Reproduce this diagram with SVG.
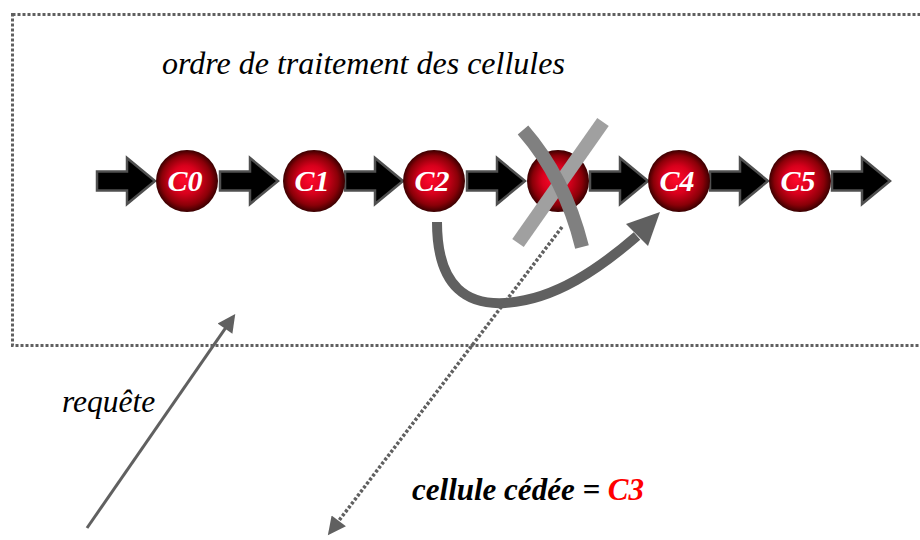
<svg xmlns="http://www.w3.org/2000/svg" width="920" height="540" viewBox="0 0 920 540">
<style>
.lbl{font-style:italic;font-weight:bold;font-size:30px;fill:#fff;text-anchor:middle}
.txt{font-style:italic;fill:#000}
.blk{fill:#000;stroke:#505050;stroke-width:2.5;stroke-linejoin:miter}
.ball{fill:url(#sph)}
</style>
<defs>
<radialGradient id="sph" cx="50%" cy="50%" r="50%" fx="44%" fy="46%">
<stop offset="0" stop-color="#ff0a2c"/>
<stop offset="0.45" stop-color="#d8001c"/>
<stop offset="0.8" stop-color="#8a0008"/>
<stop offset="1" stop-color="#3a0000"/>
</radialGradient>
<path id="blk" d="M0,-9.5 H30 V-23 L58,0 L30,23 V9.5 H0 Z"/>
<marker id="head" viewBox="0 0 10 10" refX="4" refY="5" markerWidth="26" markerHeight="18" markerUnits="userSpaceOnUse" orient="auto">
<path d="M0,0 L10,5 L0,10 Z" fill="#606060"/>
</marker>
</defs>
<rect id="frame" x="12.5" y="14.5" width="930" height="331" fill="none" stroke="#606060" stroke-width="3" stroke-dasharray="3,2"/>
<text class="txt" x="162" y="74" font-size="32" font-family="'Liberation Serif', 'DejaVu Serif', serif">ordre de traitement des cellules</text>
<g id="connectors">
<use href="#blk" class="blk" x="97" y="181"/>
<use href="#blk" class="blk" x="220" y="181"/>
<use href="#blk" class="blk" x="345" y="181"/>
<use href="#blk" class="blk" x="467" y="181"/>
<use href="#blk" class="blk" x="590" y="181"/>
<use href="#blk" class="blk" x="710" y="181"/>
<use href="#blk" class="blk" x="832" y="181"/>
<path d="M437,222 C437,290 470,305 505,303 C555,300 600,268 637,236" fill="none" stroke="#606060" stroke-width="10"/>
<polygon points="660,212 648,246 626,224" fill="#606060"/>
<line x1="87" y1="528" x2="229.1" y2="322.8" stroke="#606060" stroke-width="3" marker-end="url(#head)"/>
<line x1="562" y1="227" x2="334.4" y2="526.6" stroke="#606060" stroke-width="3.5" stroke-dasharray="3,2" marker-end="url(#head)"/>
</g>
<g id="C0"><circle class="ball" cx="187" cy="181" r="31"/><text class="lbl" x="185" y="191" font-family="'Liberation Serif', 'DejaVu Serif', serif">C0</text></g>
<g id="C1"><circle class="ball" cx="314" cy="181" r="31"/><text class="lbl" x="312" y="191" font-family="'Liberation Serif', 'DejaVu Serif', serif">C1</text></g>
<g id="C2"><circle class="ball" cx="434" cy="181" r="31"/><text class="lbl" x="432" y="191" font-family="'Liberation Serif', 'DejaVu Serif', serif">C2</text></g>
<g id="C3"><circle class="ball" cx="558" cy="181" r="31"/></g>
<g id="C4"><circle class="ball" cx="679" cy="181" r="31"/><text class="lbl" x="677" y="191" font-family="'Liberation Serif', 'DejaVu Serif', serif">C4</text></g>
<g id="C5"><circle class="ball" cx="800" cy="181" r="31"/><text class="lbl" x="798" y="191" font-family="'Liberation Serif', 'DejaVu Serif', serif">C5</text></g>
<g id="cross">
<line x1="603" y1="122" x2="518" y2="243" stroke="#a0a0a0" stroke-width="14"/>
<path d="M523,130 Q565,178 582,247" fill="none" stroke="#808080" stroke-width="14"/>
</g>
<text class="txt" x="62" y="412" font-size="31.5" font-family="'Liberation Serif', 'DejaVu Serif', serif">requête</text>
<text class="txt" x="412" y="500" font-size="31" font-weight="bold" font-family="'Liberation Serif', 'DejaVu Serif', serif">cellule cédée = <tspan fill="#ff0000">C3</tspan></text>
</svg>
